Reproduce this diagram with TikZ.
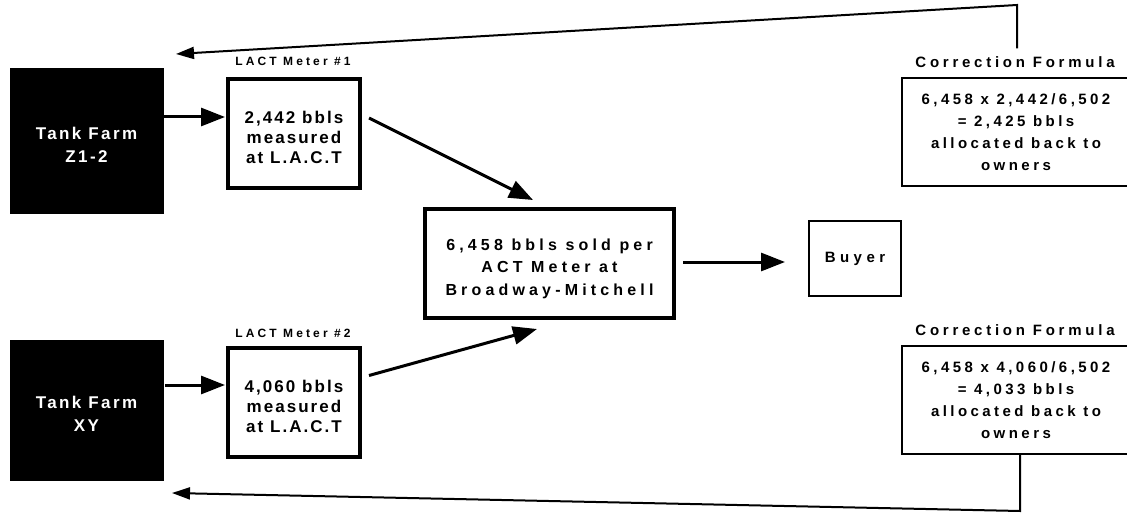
\documentclass[tikz,border=0pt]{standalone}
\usepackage{fontspec}
\setmainfont{Liberation Sans}
\newfontfamily\tffont[LetterSpace=14]{Liberation Sans}
\newfontfamily\lafont[LetterSpace=12]{Liberation Sans}
\newfontfamily\cefont[LetterSpace=26]{Liberation Sans}
\newfontfamily\bufont[LetterSpace=30]{Liberation Sans}
\newfontfamily\smfont[LetterSpace=26]{Liberation Sans}
\newfontfamily\cofont[LetterSpace=23]{Liberation Sans}
\newfontfamily\clfont[LetterSpace=25]{Liberation Sans}
\newcommand{\lift}[1]{\rule{0pt}{#1pt}}
\usetikzlibrary{arrows.meta}
\begin{document}
\begin{tikzpicture}[x=1pt,y=-1pt,
  tf/.style={fill=black,draw=black,minimum width=153pt,minimum height=145pt,text=white,align=center,inner sep=0pt,
    font=\tffont\fontsize{17}{23}\selectfont\bfseries},
  lact/.style={draw=black,line width=4pt,minimum width=132pt,minimum height=109pt,align=center,inner sep=0pt,
    font=\lafont\fontsize{17}{20}\selectfont\bfseries},
  ctrbox/.style={draw=black,line width=4pt,minimum width=249pt,minimum height=109pt,align=center,inner sep=0pt,
    font=\cefont\fontsize{16}{22.5}\selectfont\bfseries},
  buybox/.style={draw=black,line width=2pt,minimum width=92pt,minimum height=75pt,align=center,inner sep=0pt,
    font=\bufont\fontsize{15}{20}\selectfont\bfseries},
  corrbox/.style={draw=black,line width=2pt,minimum width=228pt,minimum height=108pt,align=center,inner sep=0pt,
    font=\cofont\fontsize{15}{22}\selectfont\bfseries},
  meterlab/.style={inner sep=0pt,font=\smfont\fontsize{12}{14}\selectfont\bfseries},
  corrlab/.style={inner sep=0pt,font=\clfont\fontsize{15}{17}\selectfont\bfseries},
  arr/.style={line width=3pt,-{Triangle[length=24pt,width=18pt]}},
  fb/.style={line width=2pt,-{Triangle[length=18pt,width=12pt]}},
]
\clip (0,0) rectangle (1127,516);
\fill[white] (0,0) rectangle (1127,516);

% tank farms
\node[tf] (tf1) at (86.5,140.5) {\lift{21}Tank Farm\\Z1-2};
\node[tf,minimum height=140pt] (tf2) at (86.5,410) {\lift{20}Tank Farm\\XY};

% LACT meters
\node[lact] (lact1) at (294,133.5) {\lift{20}2,442 bbls\\measured\\at L.A.C.T};
\node[lact] (lact2) at (294,402.5) {\lift{20}4,060 bbls\\measured\\at L.A.C.T};
\node[meterlab] (m1) at (293,61) {LACT Meter \#1};
\node[meterlab] (m2) at (293,333) {LACT Meter \#2};

% center and buyer
\node[ctrbox] (ctr) at (549.5,263.5) {\lift{21.5}6,458 bbls sold per\\ACT Meter at\\Broadway-Mitchell};
\node[buybox] (buyer) at (855,258.5) {Buyer};

% correction formulas
\node[corrbox] (corr1) at (1016,132) {6,458 x 2,442/6,502\\= 2,425 bbls\\allocated back to\\owners};
\node[corrbox] (corr2) at (1016,400) {6,458 x 4,060/6,502\\= 4,033 bbls\\allocated back to\\owners};
\node[corrlab] (cf1) at (1015,62) {Correction Formula};
\node[corrlab] (cf2) at (1015,330) {Correction Formula};

% flow arrows
\coordinate (r1) at (0,117);
\coordinate (r2) at (0,385);
\draw[arr] (tf1.east |- r1) -- ([xshift=-1pt]lact1.west |- r1);
\draw[arr] ([xshift=2pt]tf2.east |- r2) -- ([xshift=-1pt]lact2.west |- r2);
\draw[arr] ([xshift=7pt,yshift=-41pt]lact1.north east) -- ([xshift=-16.5pt,yshift=7pt]ctr.north);
\draw[arr] ([xshift=7pt,yshift=-29.5pt]lact2.north east) -- ([xshift=-12.5pt,yshift=-9pt]ctr.south);
\draw[arr] ([xshift=7pt,yshift=1.5pt]ctr.east) -- ([xshift=-23pt,yshift=-3.5pt]buyer.west);

% feedback arrows
\coordinate (topc) at (1017,5);
\coordinate (topt) at (176,54);
\coordinate (botc) at (1020,511);
\coordinate (bott) at (172,493);
\draw[fb] ([xshift=2pt,yshift=8pt]cf1.north) -- (topc) -- (topt);
\draw[fb] ([xshift=4pt]corr2.south) -- (botc) -- (bott);
\end{tikzpicture}
\end{document}
